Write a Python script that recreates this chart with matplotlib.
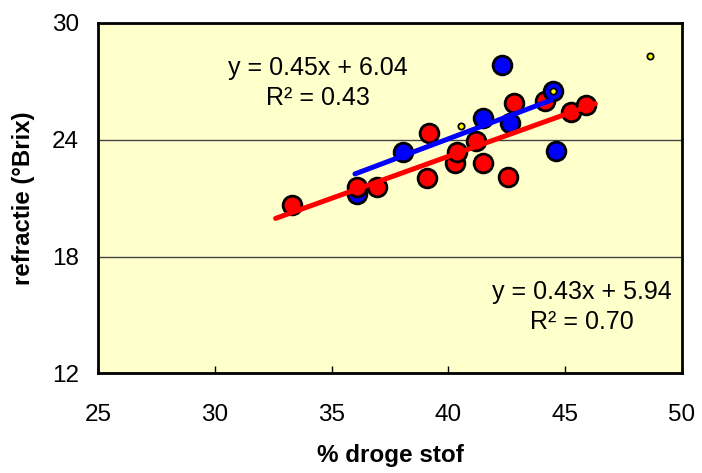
import matplotlib
matplotlib.use('Agg')
import matplotlib.pyplot as plt
import numpy as np

plt.rcParams['font.family'] = ['Liberation Sans', 'DejaVu Sans']

# red series (droge stof %, refractie °Brix)
red_x = [33.30, 36.09, 36.95, 39.19, 39.10, 40.29, 40.38, 41.19, 41.49, 42.56,
         42.82, 44.15, 45.26, 45.90]
red_y = [20.62, 21.57, 21.57, 24.36, 22.01, 22.82, 23.34, 23.95, 22.82, 22.06,
         25.89, 26.00, 25.43, 25.79]

# blue series
blue_x = [36.09, 38.07, 41.49, 42.30, 42.65, 44.49, 44.62]
blue_y = [21.19, 23.39, 25.13, 27.84, 24.87, 26.51, 23.44]

# small yellow points
yel_x = [40.55, 44.49, 48.65]
yel_y = [24.72, 26.51, 28.30]

# trend lines: slope, intercept, x range
red_fit = (0.43, 5.94, 32.6, 46.3)
blue_fit = (0.45, 6.04, 36.0, 44.4)
red_eq = 'y = 0.43x + 5.94\nR² = 0.70'
blue_eq = 'y = 0.45x + 6.04\nR² = 0.43'

x_ticks = [25, 30, 35, 40, 45, 50]
y_ticks = [12, 18, 24, 30]

fig = plt.figure(figsize=(7.02, 4.73), dpi=100)
ax = fig.add_axes([0.140, 0.2104, 0.831, 0.7416])
ax.set_facecolor('#FFFFCC')

mk = dict(ls='none', marker='o', ms=13.5, mec='black', mew=2)
# first blue point sits under the red one, the rest on top
ax.plot(blue_x[:1], blue_y[:1], mfc='#0000FF', zorder=3, **mk)
ax.plot(red_x, red_y, mfc='#FF0000', zorder=3.1, **mk)
ax.plot(blue_x[1:], blue_y[1:], mfc='#0000FF', zorder=3.2, **mk)
ax.plot(yel_x, yel_y, 'o', ms=4.5, mfc='#FFFF00', mec='black', mew=1.3, zorder=4)

for (a, b, x0, x1), col in [(red_fit, '#FF0000'), (blue_fit, '#0000FF')]:
    xs = np.array([x0, x1])
    ax.plot(xs, a * xs + b, color=col, lw=3.6, solid_capstyle='round', zorder=5)

ax.text(34.42, 26.92, blue_eq, ha='center', va='center', fontsize=18,
        linespacing=1.3, color='black', zorder=6)
ax.text(45.73, 15.41, red_eq, ha='center', va='center', fontsize=18,
        linespacing=1.3, color='black', zorder=6)

ax.set_xlim(25, 50)
ax.set_ylim(12, 30)
ax.set_xticks(x_ticks)
ax.set_yticks(y_ticks)
ax.tick_params(axis='x', direction='in', length=5, width=1, pad=22,
               labelsize=17.5, colors='black')
ax.tick_params(axis='y', length=0, pad=14, labelsize=17.5, colors='black')
ax.grid(axis='y', color='#444444', lw=1)
ax.set_axisbelow(True)
for s in ax.spines.values():
    s.set_linewidth(2)
    s.set_color('black')

ax.set_xlabel('% droge stof', fontsize=17.5, fontweight='bold', labelpad=13)
ax.set_ylabel('refractie (°Brix)', fontsize=17.3, fontweight='bold', labelpad=12)

fig.savefig('out.png', dpi=100)
